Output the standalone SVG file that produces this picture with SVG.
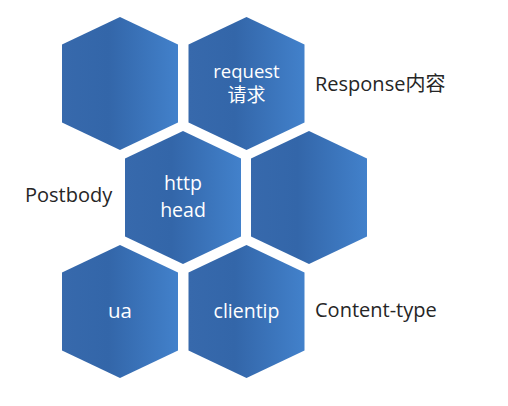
<svg xmlns="http://www.w3.org/2000/svg" width="508" height="406" viewBox="0 0 508 406">
  <defs>
    <linearGradient id="hexfill" x1="0" y1="0" x2="1" y2="0">
      <stop offset="0" stop-color="#3769ac"/>
      <stop offset="0.4" stop-color="#3366a9"/>
      <stop offset="1" stop-color="#4281cb"/>
    </linearGradient>
    <polygon id="hex" points="0,-66.5 58,-39 58,39 0,66.5 -58,39 -58,-39"/>
  </defs>
  <style>
    .hex { fill: url(#hexfill); }
    .in { font-family: "Open Sans", "Noto Sans", "Noto Sans CJK SC", sans-serif; font-size: 18.5px; fill: #ffffff; text-anchor: middle; }
    .out { font-family: "Open Sans", "Noto Sans", "Noto Sans CJK SC", sans-serif; font-size: 20px; fill: #262626; }
  </style>
  <rect width="508" height="406" fill="#ffffff"/>
  <g id="connectors"/>
  <g id="hex1"><use href="#hex" class="hex" x="120" y="83.5"/></g>
  <g id="hex-request">
    <use href="#hex" class="hex" x="246.5" y="83.5"/>
    <text class="in" x="246.5" y="78">request</text>
    <text class="in" x="246.5" y="102" style="font-size:19px">请求</text>
  </g>
  <g id="hex-http">
    <use href="#hex" class="hex" x="183" y="197.5"/>
    <text class="in" x="183" y="190" style="font-size:19.5px">http</text>
    <text class="in" x="183" y="217" style="font-size:19.5px">head</text>
  </g>
  <g id="hex4"><use href="#hex" class="hex" x="309" y="197.5"/></g>
  <g id="hex-ua">
    <use href="#hex" class="hex" x="120" y="311.5"/>
    <text class="in" x="120" y="318" style="font-size:20.5px">ua</text>
  </g>
  <g id="hex-clientip">
    <use href="#hex" class="hex" x="246.5" y="311.5"/>
    <text class="in" x="246.5" y="318" style="font-size:19.5px">clientip</text>
  </g>
  <g id="label-response"><text class="out" x="315" y="91">Response内容</text></g>
  <g id="label-postbody"><text class="out" x="25" y="202">Postbody</text></g>
  <g id="label-content"><text class="out" x="315" y="317">Content-type</text></g>
</svg>
